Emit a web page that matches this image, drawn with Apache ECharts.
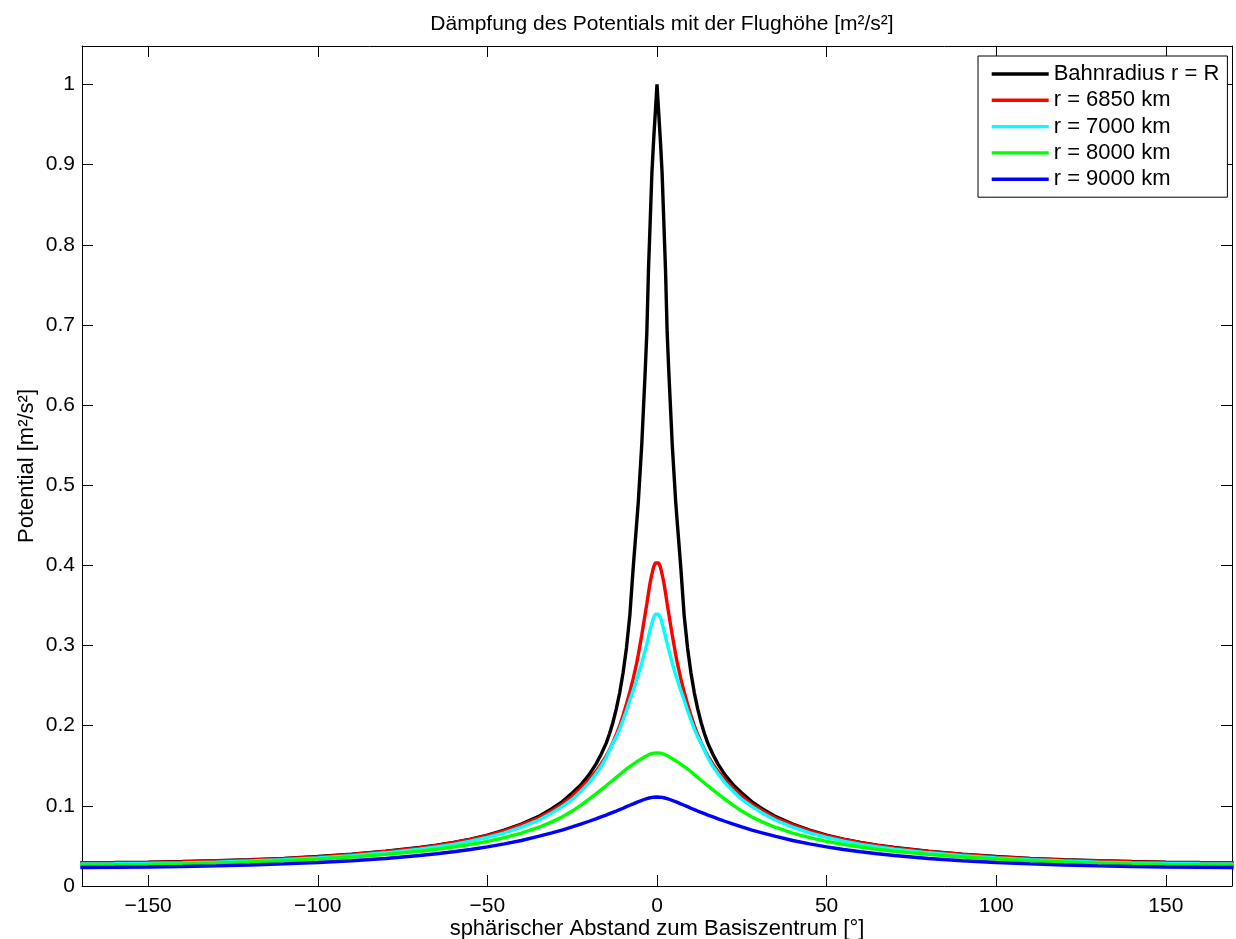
<!DOCTYPE html>
<html>
<head>
<meta charset="utf-8">
<script src="https://cdn.jsdelivr.net/npm/echarts@6/dist/echarts.min.js"></script>
<style>
html,body{margin:0;padding:0;background:#fff;}
#chart{width:1236px;height:939px;}
</style>
</head>
<body>
<div id="chart"></div>
<script>
// spherical distance from the base centre (degrees, positive side; curves are symmetric)
const angles = [0,0.5,1,1.5,2,2.5,3,3.5,4,4.5,5,5.5,6,7,8,9,10,11,12,13,14,15,16.5,18,20,22.5,25,28,31,35,40,45,50,55,60,65,70,80,90,100,110,120,130,140,150,160,170];

const seriesNames = ['Bahnradius r = R','r = 6850 km','r = 7000 km','r = 8000 km','r = 9000 km'];
const seriesColors = ['#000000','#ff0000','#00ffff','#00ff00','#0000ff'];

const valR = [1.0,0.965,0.93,0.89,0.83,0.77,0.69,0.64,0.595,0.55,0.515,0.48,0.452,0.398,0.338,0.297,0.266,0.241,0.221,0.204,0.19,0.178,0.164,0.152,0.139,0.126,0.116,0.105,0.0965,0.0865,0.0772,0.0698,0.0634,0.0584,0.0544,0.051,0.048,0.0435,0.0398,0.0368,0.0345,0.0327,0.0315,0.0305,0.0298,0.0294,0.0292];
const val6850 = [0.405,0.403,0.398,0.389,0.379,0.366,0.352,0.339,0.326,0.313,0.301,0.289,0.278,0.259,0.242,0.227,0.213,0.2,0.189,0.179,0.17,0.162,0.152,0.143,0.133,0.122,0.112,0.102,0.094,0.0848,0.0762,0.0688,0.0629,0.058,0.054,0.0505,0.0475,0.0431,0.0394,0.0364,0.0341,0.0323,0.0311,0.0301,0.0294,0.029,0.0288];
const val7000 = [0.341,0.339,0.335,0.328,0.32,0.311,0.302,0.294,0.286,0.278,0.271,0.264,0.257,0.244,0.232,0.219,0.207,0.196,0.186,0.178,0.169,0.16,0.149,0.14,0.129,0.118,0.108,0.099,0.0912,0.082,0.0735,0.0663,0.0606,0.0559,0.052,0.0487,0.0458,0.0414,0.0378,0.035,0.0328,0.0311,0.0298,0.0288,0.0281,0.0277,0.0275];
const val8000 = [0.166,0.166,0.1658,0.1653,0.1646,0.1637,0.1626,0.1614,0.1602,0.1589,0.1576,0.1562,0.1548,0.152,0.149,0.146,0.1425,0.139,0.1355,0.132,0.1285,0.125,0.12,0.115,0.1085,0.1005,0.0935,0.0862,0.08,0.073,0.066,0.0603,0.0557,0.0519,0.0486,0.0458,0.0434,0.0394,0.0362,0.0336,0.0315,0.0299,0.0286,0.0276,0.0269,0.0265,0.0263];
const val9000 = [0.111,0.111,0.1108,0.1105,0.1101,0.1096,0.109,0.1083,0.1076,0.1068,0.106,0.1052,0.1043,0.1025,0.1008,0.099,0.097,0.0953,0.0935,0.0918,0.0902,0.0885,0.0862,0.0838,0.0808,0.0772,0.0738,0.0698,0.0662,0.0618,0.0568,0.0525,0.0488,0.0456,0.0428,0.0402,0.038,0.0343,0.0315,0.0293,0.0276,0.0262,0.0251,0.0243,0.0237,0.0233,0.0231];

const xTicks = [-150,-100,-50,0,50,100,150];
const yTicks = [0,0.1,0.2,0.3,0.4,0.5,0.6,0.7,0.8,0.9,1];

const titleText = 'Dämpfung des Potentials mit der Flughöhe [m²/s²]';
const xName = 'sphärischer Abstand zum Basiszentrum [°]';
const yName = 'Potential [m²/s²]';

function mirror(vals){
  const d = [];
  for (let i = angles.length - 1; i >= 1; i--) d.push([-angles[i], vals[i]]);
  for (let i = 0; i < angles.length; i++) d.push([angles[i], vals[i]]);
  return d;
}
const allVals = [valR, val6850, val7000, val8000, val9000];

const FONT = "'Liberation Sans', Arial, Helvetica, sans-serif";
const chart = echarts.init(document.getElementById('chart'), null, {renderer:'canvas'});
const fmtX = v => String(v).replace('-', '\u2212');

const LW = 3.4;
const axisLineStyle = {color:'#000', width:1};
const option = {
  backgroundColor:'#fff',
  animation:false,
  textStyle:{fontFamily:FONT},
  title:{
    text:titleText, left:657, top:9, textAlign:'center',
    textStyle:{fontFamily:FONT, fontSize:21, fontWeight:'normal', color:'#000'}
  },
  grid:{left:82, right:4, top:46, bottom:53, containLabel:false, outerBoundsMode:'none'},
  legend:{
    orient:'vertical', left:978, top:56,
    padding:[7,8,7,12],
    itemWidth:57, itemHeight:20, itemGap:4.3,
    borderColor:'#000', borderWidth:1, backgroundColor:'#fff',
    itemStyle:{opacity:0},
    lineStyle:{width:LW},
    textStyle:{fontFamily:FONT, fontSize:22, color:'#000'},
    data:seriesNames
  },
  xAxis:[{
    type:'value', min:-169.5, max:169.5, position:'bottom',
    name:xName, nameLocation:'middle', nameGap:32, nameMoveOverlap:false,
    nameTextStyle:{fontFamily:FONT, fontSize:22, color:'#000'},
    axisLine:{show:true, onZero:false, lineStyle:axisLineStyle},
    axisTick:{show:true, inside:true, length:11, customValues:xTicks, lineStyle:{color:'#000'}},
    axisLabel:{show:true, margin:10, fontSize:21, color:'#000', fontFamily:FONT, customValues:xTicks, formatter:fmtX},
    splitLine:{show:false}
  },{
    type:'value', min:-169.5, max:169.5, position:'top',
    axisLine:{show:true, onZero:false, lineStyle:axisLineStyle},
    axisTick:{show:true, inside:true, length:11, customValues:xTicks, lineStyle:{color:'#000'}},
    axisLabel:{show:false},
    splitLine:{show:false}
  }],
  yAxis:[{
    type:'value', min:0, max:1.048, position:'left',
    name:yName, nameLocation:'middle', nameGap:44, nameMoveOverlap:false,
    nameTextStyle:{fontFamily:FONT, fontSize:22, color:'#000'},
    axisLine:{show:true, onZero:false, lineStyle:axisLineStyle},
    axisTick:{show:true, inside:true, length:11, customValues:yTicks, lineStyle:{color:'#000'}},
    axisLabel:{show:true, margin:7, fontSize:21, color:'#000', fontFamily:FONT, customValues:yTicks},
    splitLine:{show:false}
  },{
    type:'value', min:0, max:1.048, position:'right',
    axisLine:{show:true, onZero:false, lineStyle:axisLineStyle},
    axisTick:{show:true, inside:true, length:11, customValues:yTicks, lineStyle:{color:'#000'}},
    axisLabel:{show:false},
    splitLine:{show:false}
  }],
  series: seriesNames.map((n, i) => ({
    name:n, type:'line', xAxisIndex:0, yAxisIndex:0,
    data:mirror(allVals[i]),
    symbol:'none', showSymbol:false, smooth:false,
    lineStyle:{color:seriesColors[i], width:LW},
    itemStyle:{color:seriesColors[i]},
    clip:true
  }))
};
chart.setOption(option);
</script>
</body>
</html>
